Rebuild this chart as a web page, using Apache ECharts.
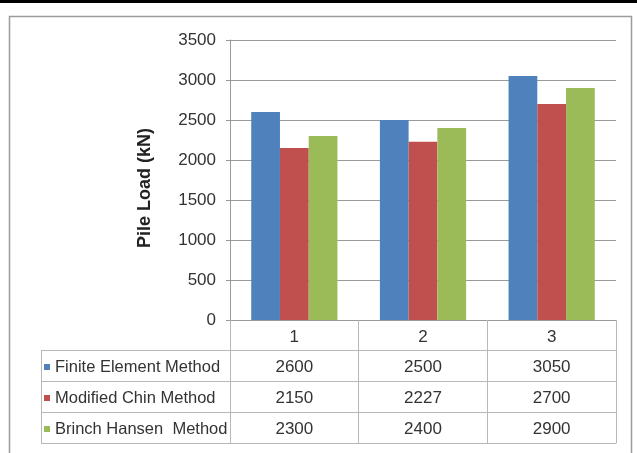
<!DOCTYPE html>
<html>
<head>
<meta charset="utf-8">
<script src="https://cdn.jsdelivr.net/npm/echarts@6/dist/echarts.min.js"></script>
<style>
  html, body { margin: 0; padding: 0; background: #ffffff; }
  #chart { width: 637px; height: 453px; }
</style>
</head>
<body>
<div id="chart"></div>
<script>
// Pile load by method for three piles
const categories = ['1', '2', '3'];
const seriesNames = ['Finite Element Method', 'Modified Chin Method', 'Brinch Hansen  Method'];
const finiteElement = [2600, 2500, 3050];
const modifiedChin = [2150, 2227, 2700];
const brinchHansen = [2300, 2400, 2900];
const yTicks = { min: 0, max: 3500, interval: 500 };

const seriesValues = [finiteElement, modifiedChin, brinchHansen];
const colors = ['#4F81BD', '#C0504D', '#9BBB59'];

const FONT = '"Liberation Sans", Arial, sans-serif';
const TEXT = '#333333';
const GRID_LINE = '#9a9a9a';
const TABLE_LINE = '#b8b8b8';
const ROW_H = 31;
const HEADER_H = 30;

// Category axis (header row of the data table)
const xAxes = [{
  type: 'category',
  data: categories,
  position: 'bottom',
  axisLine: { show: true, lineStyle: { color: GRID_LINE, width: 1 } },
  axisTick: { show: true, length: HEADER_H, interval: 0, lineStyle: { color: TABLE_LINE } },
  axisLabel: { margin: 9, fontFamily: FONT, fontSize: 17, color: TEXT, interval: 0 },
  splitLine: { show: false }
}];

// One extra axis per table row, labelled with that series' values
seriesValues.forEach((vals, i) => {
  xAxes.push({
    type: 'category',
    data: vals.map(String),
    position: 'bottom',
    offset: HEADER_H + ROW_H * i,
    axisLine: { show: true, lineStyle: { color: TABLE_LINE, width: 1 } },
    axisTick: { show: true, length: ROW_H, interval: 0, lineStyle: { color: TABLE_LINE } },
    axisLabel: { margin: 9, fontFamily: FONT, fontSize: 17, color: TEXT, interval: 0 },
    splitLine: { show: false }
  });
});
// Closing line under the last row
xAxes.push({
  type: 'category',
  data: categories,
  position: 'bottom',
  offset: HEADER_H + ROW_H * seriesValues.length,
  axisLine: { show: true, lineStyle: { color: TABLE_LINE, width: 1 } },
  axisTick: { show: false },
  axisLabel: { show: false },
  splitLine: { show: false }
});

const gridLeft = 230, gridTop = 40, gridBottomY = 320;
const tableLeft = 41;

// Row rules and left border of the legend column
const tableGraphics = [];
for (let i = 0; i <= seriesValues.length; i++) {
  const y = gridBottomY + HEADER_H + ROW_H * i + 0.5;
  tableGraphics.push({
    type: 'line',
    shape: { x1: tableLeft, y1: y, x2: gridLeft, y2: y },
    style: { stroke: TABLE_LINE, lineWidth: 1 }
  });
}
tableGraphics.push({
  type: 'line',
  shape: { x1: tableLeft + 0.5, y1: gridBottomY + HEADER_H, x2: tableLeft + 0.5, y2: gridBottomY + HEADER_H + ROW_H * seriesValues.length },
  style: { stroke: TABLE_LINE, lineWidth: 1 }
});

const chart = echarts.init(document.getElementById('chart'), null, { renderer: 'canvas' });
chart.setOption({
  animation: false,
  backgroundColor: '#ffffff',
  color: colors,
  grid: { left: gridLeft, right: 21, top: gridTop, bottom: 453 - gridBottomY, containLabel: false },
  legend: {
    orient: 'vertical',
    left: 44,
    top: 357,
    padding: 0,
    icon: 'rect',
    itemWidth: 6,
    itemHeight: 6,
    itemGap: 11,
    selectedMode: false,
    textStyle: { fontFamily: FONT, fontSize: 16.5, color: TEXT, lineHeight: 20 },
    data: seriesNames
  },
  xAxis: xAxes,
  yAxis: {
    type: 'value',
    min: yTicks.min,
    max: yTicks.max,
    interval: yTicks.interval,
    name: 'Pile Load (kN)',
    nameLocation: 'middle',
    nameGap: 76,
    nameTextStyle: { fontFamily: FONT, fontSize: 18, fontWeight: 'bold', color: '#222222', padding: [0, 16, 0, 0] },
    axisLine: { show: true, lineStyle: { color: GRID_LINE, width: 1 } },
    axisTick: { show: true, length: 4, lineStyle: { color: GRID_LINE } },
    axisLabel: { margin: 14, fontFamily: FONT, fontSize: 17, color: TEXT, formatter: v => String(v) },
    splitLine: { show: true, lineStyle: { color: GRID_LINE, width: 1 } }
  },
  series: seriesValues.map((vals, i) => ({
    name: seriesNames[i],
    type: 'bar',
    xAxisIndex: 0,
    data: vals,
    barGap: '0%',
    barCategoryGap: '33%',
    itemStyle: { color: colors[i] }
  })),
  graphic: [
    // black rule across the top of the page
    { type: 'rect', shape: { x: 0, y: 0, width: 637, height: 3 }, style: { fill: '#000000' }, z: 10 },
    // chart frame
    { type: 'rect', shape: { x: 9.5, y: 16.5, width: 622, height: 460 }, style: { fill: 'none', stroke: '#9c9c9c', lineWidth: 1.5 }, z: 10 }
  ].concat(tableGraphics)
});
</script>
</body>
</html>
